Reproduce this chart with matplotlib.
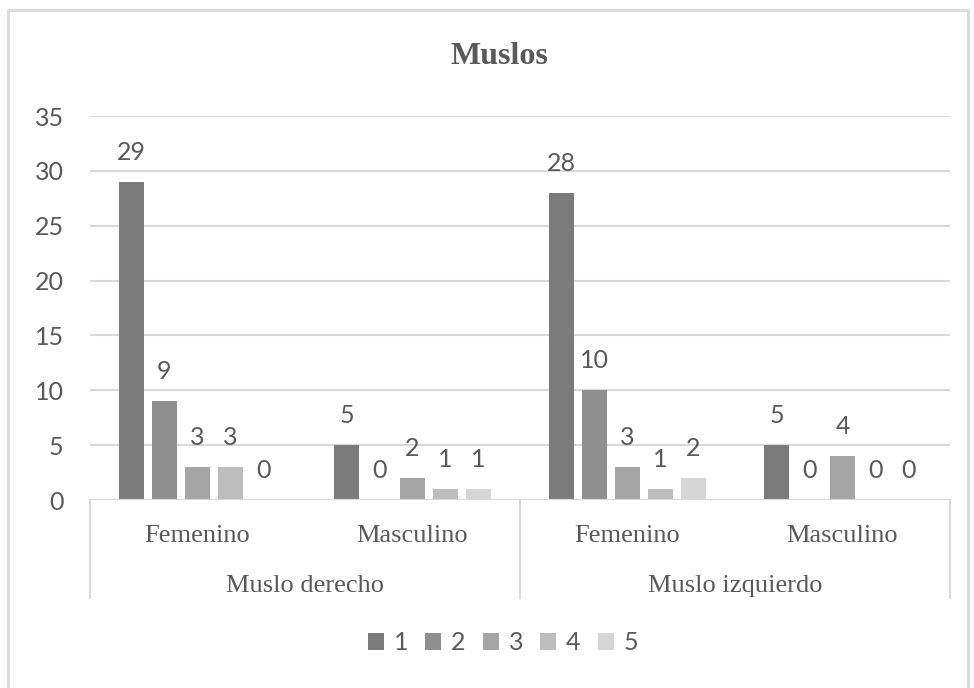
import matplotlib
matplotlib.use("Agg")
import matplotlib.pyplot as plt
import matplotlib.transforms as mtransforms
from matplotlib.lines import Line2D
import numpy as np

title = "Muslos"
categories = ["Femenino", "Masculino", "Femenino", "Masculino"]
groups = ["Muslo derecho", "Muslo izquierdo"]
series_names = ["1", "2", "3", "4", "5"]
s1 = [29, 5, 28, 5]
s2 = [9, 0, 10, 0]
s3 = [3, 2, 3, 4]
s4 = [3, 1, 1, 0]
s5 = [0, 1, 2, 0]
series = [s1, s2, s3, s4, s5]
colors = ["#7b7b7b", "#8f8f8f", "#a5a5a5", "#bdbdbd", "#d6d6d6"]
yticks = [0, 5, 10, 15, 20, 25, 30, 35]

W, H = 974, 688
fig = plt.figure(figsize=(W / 100, H / 100), dpi=100)
fig.patch.set_facecolor("white")
bx0, bx1, by0 = 8 / W, 968 / W, 1 - 10 / H
fig.add_artist(Line2D([bx0, bx0, bx1, bx1], [0, by0, by0, 0], transform=fig.transFigure,
                      color="#d9d9d9", lw=2))

ax_l, ax_r, ax_t, ax_b = 90, 950, 116, 500
ax = fig.add_axes([ax_l / W, 1 - ax_b / H, (ax_r - ax_l) / W, (ax_b - ax_t) / H])

num_font = ["Lato", "DejaVu Sans"]
serif = ["Liberation Serif", "DejaVu Serif"]
txtc = "#595959"

x = np.arange(len(categories))
step = 0.1535
bw = 0.116
for i, (vals, c, nm) in enumerate(zip(series, colors, series_names)):
    xs = x + (i - 2) * step
    ax.bar(xs, vals, width=bw, color=c, label=nm, zorder=3)
    for xi, v in zip(xs, vals):
        ax.annotate(str(v), (xi, v), xytext=(0, 13), textcoords="offset points",
                    ha="center", va="bottom", fontsize=18, color=txtc, family=num_font)

ax.set_xlim(-0.5, len(categories) - 0.5)
ax.set_ylim(0, 35)
ax.set_yticks(yticks)
ax.set_yticklabels([str(t) for t in yticks], fontsize=18, color=txtc, family=num_font)
ax.grid(axis="y", color="#d9d9d9", lw=1.5, zorder=0)
for s in ax.spines.values():
    s.set_visible(False)
ax.tick_params(axis="y", length=0, pad=19)
ax.tick_params(axis="x", length=0, pad=18)
ax.set_xticks(x)
ax.set_xticklabels(categories, fontsize=19, color=txtc, family=serif)

trans = mtransforms.blended_transform_factory(ax.transData, ax.transAxes)
axh = ax_b - ax_t
bottom = -98 / axh
ax.axhline(0, color="#d9d9d9", lw=1.5, zorder=4)
for xv in [-0.5, 1.5, 3.5]:
    ax.plot([xv, xv], [0, bottom], transform=trans, color="#d9d9d9", lw=1.5, clip_on=False)
for gi, g in enumerate(groups):
    ax.text(gi * 2 + 0.5, -86 / axh, g, transform=trans, ha="center", va="center",
            fontsize=19, color=txtc, family=serif)

fig.text(499 / W, 1 - 57 / H, title, ha="center", va="center", fontsize=23,
         fontweight="bold", color=txtc, family=serif)

leg = fig.legend(loc="center", bbox_to_anchor=(503 / W, 1 - 643 / H), ncol=5, frameon=False,
                 prop={"family": num_font, "size": 18}, handlelength=0.64, handleheight=0.64,
                 handletextpad=0.4, columnspacing=0.68)
for t in leg.get_texts():
    t.set_color(txtc)

fig.savefig("out.png", dpi=100)
